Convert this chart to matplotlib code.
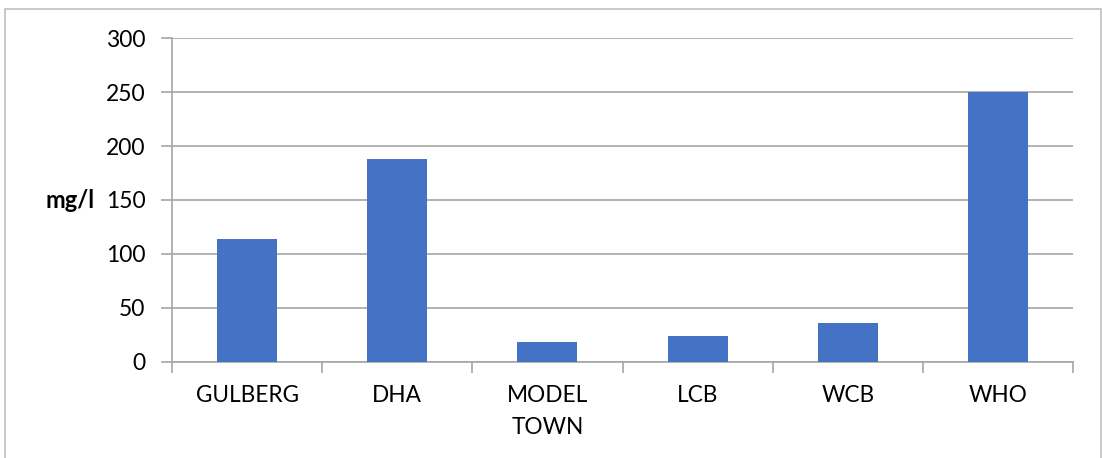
import matplotlib.pyplot as plt
from matplotlib.patches import Rectangle

categories = ["GULBERG", "DHA", "MODEL\nTOWN", "LCB", "WCB", "WHO"]
values = [114, 188, 18, 24, 36, 250]
y_ticks = [0, 50, 100, 150, 200, 250, 300]

plt.rcParams["font.family"] = ["Lato", "DejaVu Sans"]

fig = plt.figure(figsize=(11.02, 4.58), dpi=100)
ax = fig.add_axes([172 / 1102, 1 - 361.7 / 458, (1073 - 172) / 1102, (361.7 - 38.3) / 458])

# outer chart frame like the office chart border
fig.patches.append(Rectangle((5 / 1102, -0.1), (1101 - 5) / 1102, 1.1 - 9 / 458,
                             transform=fig.transFigure, fill=False,
                             edgecolor="#bfbfbf", linewidth=1.2))

x = list(range(len(categories)))
ax.bar(x, values, width=0.4, color="#4472c4", zorder=3)

ax.set_xlim(-0.5, len(categories) - 0.5)
ax.set_ylim(0, 300)
ax.set_yticks(y_ticks)
ax.set_yticklabels([str(t) for t in y_ticks], fontsize=16.5)
ax.set_xticks(x)
ax.set_xticklabels(categories, fontsize=16.3, linespacing=1.6, va="top")
ax.set_xticks([i - 0.5 for i in range(len(categories) + 1)], minor=True)

ax.grid(axis="y", color="#a6a6a6", linewidth=1.2, zorder=0)
for s in ["top", "right"]:
    ax.spines[s].set_visible(False)
ax.spines["left"].set_color("#a6a6a6")
ax.spines["bottom"].set_color("#a6a6a6")
ax.spines["left"].set_linewidth(1.2)
ax.spines["bottom"].set_linewidth(1.2)

ax.tick_params(axis="y", length=8, width=1.2, color="#a6a6a6", pad=11)
ax.tick_params(axis="x", which="major", length=0, pad=17)
ax.tick_params(axis="x", which="minor", length=8, width=1.2, color="#a6a6a6")

ax.set_ylabel("mg/l", fontsize=17, fontweight="bold", rotation=0, ha="right", va="center")
ax.yaxis.set_label_coords((95 - 172) / 901, 0.5)

fig.savefig("out.png", dpi=100)
